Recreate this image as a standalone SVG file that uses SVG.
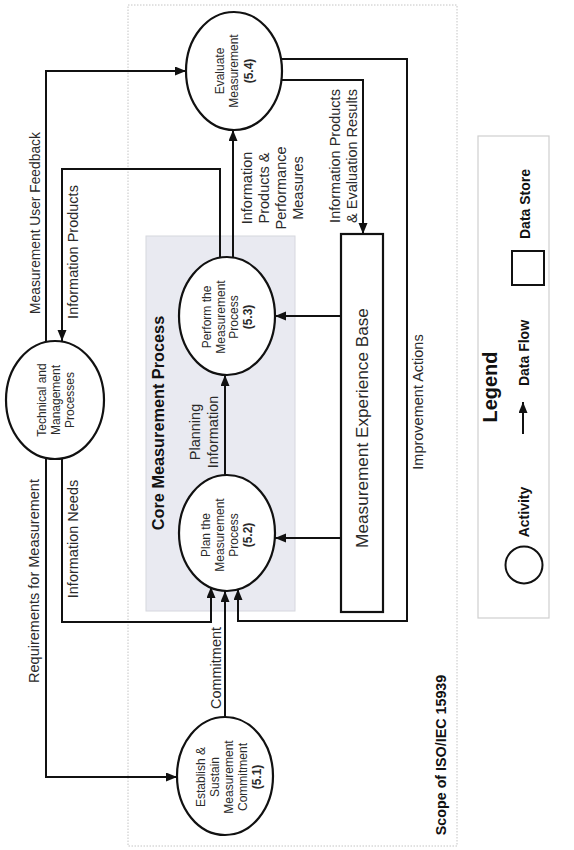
<svg xmlns="http://www.w3.org/2000/svg" width="574" height="850" viewBox="0 0 574 850">
<style>
.node{fill:#fff;stroke:#111;stroke-width:2.2}
.nt{font-family:"Liberation Sans",Arial,sans-serif;font-size:12px;fill:#2a2a2a;text-anchor:middle;dominant-baseline:central}
.lbl{font-family:"Liberation Sans",Arial,sans-serif;font-size:14.5px;fill:#2a2a2a;text-anchor:middle;dominant-baseline:central}
.bold{font-weight:bold;fill:#111}
.conn{fill:none;stroke:#111;stroke-width:2}
</style>
<defs>
<marker id="arr" markerUnits="userSpaceOnUse" markerWidth="12" markerHeight="10" refX="11" refY="4.5" orient="auto">
<path d="M0,0 L11,4.5 L0,9 z" fill="#111"/>
</marker>
</defs>
<rect x="0" y="0" width="574" height="850" fill="#fff"/>
<g id="scope">
<rect x="128" y="5" width="329" height="841" fill="none" stroke="#c4c4c4" stroke-width="1" stroke-dasharray="1.5,1.5"/>
<text class="lbl bold" font-size="14.3" transform="translate(441,755) rotate(-90)" style="font-size:14.3px">Scope of ISO/IEC 15939</text>
</g>
<g id="core">
<rect x="146" y="236" width="149" height="375" fill="#e9eaf1" stroke="#d6d7de" stroke-width="1"/>
<text class="lbl bold" transform="translate(158,423) rotate(-90)" style="font-size:16.3px">Core Measurement Process</text>
</g>
<g id="connectors">
<path class="conn" d="M46,342 V71 H186" marker-end="url(#arr)"/>
<path class="conn" d="M220,258 V169 H62 V341" marker-end="url(#arr)"/>
<path class="conn" d="M233,257 V130" marker-end="url(#arr)"/>
<path class="conn" d="M281,80 H363 V234" marker-end="url(#arr)"/>
<path class="conn" d="M281,59 H407 V621 H238 V589" marker-end="url(#arr)"/>
<path class="conn" d="M62,458 V622 H211 V587" marker-end="url(#arr)"/>
<path class="conn" d="M225,717 V591" marker-end="url(#arr)"/>
<path class="conn" d="M46,458 V777 H177" marker-end="url(#arr)"/>
<path class="conn" d="M225,475 V375" marker-end="url(#arr)"/>
<path class="conn" d="M341,316 H275" marker-end="url(#arr)"/>
<path class="conn" d="M341,538 H275" marker-end="url(#arr)"/>
<text class="lbl" transform="translate(35,223) rotate(-90)" style="font-size:13.8px">Measurement User Feedback</text>
<text class="lbl" transform="translate(73,252) rotate(-90)">Information Products</text>
<text class="lbl" transform="translate(34,581) rotate(-90)">Requirements for Measurement</text>
<text class="lbl" transform="translate(73,539) rotate(-90)">Information Needs</text>
<text class="lbl" transform="translate(216,668) rotate(-90)">Commitment</text>
<text class="lbl" transform="translate(204,432) rotate(-90)"><tspan x="0" y="-9">Planning</tspan><tspan x="0" y="9">Information</tspan></text>
<text class="lbl" transform="translate(272.5,188) rotate(-90)"><tspan x="0" y="-25.5">Information</tspan><tspan x="0" y="-8.5">Products &amp;</tspan><tspan x="0" y="8.5">Performance</tspan><tspan x="0" y="25.5">Measures</tspan></text>
<text class="lbl" transform="translate(343.5,156) rotate(-90)"><tspan x="0" y="-8.5">Information Products</tspan><tspan x="0" y="8.5">&amp; Evaluation Results</tspan></text>
<text class="lbl" transform="translate(418,402) rotate(-90)">Improvement Actions</text>
</g>
<g id="evaluate">
<ellipse class="node" cx="234" cy="71" rx="48" ry="59"/>
<text class="nt" transform="translate(234,71) rotate(-90)"><tspan x="0" y="-14.5">Evaluate</tspan><tspan x="0" y="0">Measurement</tspan><tspan x="0" y="14.5" font-weight="bold">(5.4)</tspan></text>
</g>
<g id="perform">
<ellipse class="node" cx="227" cy="316" rx="48" ry="59"/>
<text class="nt" transform="translate(227.5,317) rotate(-90)"><tspan x="0" y="-20.5">Perform the</tspan><tspan x="0" y="-7">Measurement</tspan><tspan x="0" y="6.5">Process</tspan><tspan x="0" y="20.5" font-weight="bold">(5.3)</tspan></text>
</g>
<g id="plan">
<ellipse class="node" cx="227" cy="533" rx="48" ry="58"/>
<text class="nt" transform="translate(227,535) rotate(-90)"><tspan x="0" y="-21">Plan the</tspan><tspan x="0" y="-7">Measurement</tspan><tspan x="0" y="7">Process</tspan><tspan x="0" y="21" font-weight="bold">(5.2)</tspan></text>
</g>
<g id="technical">
<ellipse class="node" cx="55" cy="400" rx="49" ry="59"/>
<text class="nt" transform="translate(56,400) rotate(-90)"><tspan x="0" y="-14">Technical and</tspan><tspan x="0" y="0">Management</tspan><tspan x="0" y="14">Processes</tspan></text>
</g>
<g id="establish">
<ellipse class="node" cx="225" cy="776" rx="48" ry="59"/>
<text class="nt" transform="translate(228.5,777) rotate(-90)"><tspan x="0" y="-28">Establish &amp;</tspan><tspan x="0" y="-14">Sustain</tspan><tspan x="0" y="0">Measurement</tspan><tspan x="0" y="14">Commitment</tspan><tspan x="0" y="28" font-weight="bold">(5.1)</tspan></text>
</g>
<g id="experience-base">
<rect x="341" y="234" width="42" height="378" fill="#fff" stroke="#111" stroke-width="2.2"/>
<text class="lbl" transform="translate(362,428) rotate(-90)" style="font-size:17.2px">Measurement Experience Base</text>
</g>
<g id="legend">
<rect x="478" y="136" width="71" height="482" fill="#fff" stroke="#cfcfcf" stroke-width="1.2"/>
<text class="lbl bold" transform="translate(490,387) rotate(-90)" style="font-size:20px">Legend</text>
<circle cx="524" cy="565" r="18.5" fill="#fff" stroke="#111" stroke-width="2"/>
<text class="lbl bold" transform="translate(524,512) rotate(-90)" style="font-size:14px">Activity</text>
<path class="conn" d="M523,434 V402" marker-end="url(#arr)"/>
<text class="lbl bold" transform="translate(524,353) rotate(-90)" style="font-size:14px">Data Flow</text>
<rect x="512" y="251" width="32" height="34" fill="#fff" stroke="#111" stroke-width="2"/>
<text class="lbl bold" transform="translate(525,204) rotate(-90)" style="font-size:14px">Data Store</text>
</g>
</svg>
